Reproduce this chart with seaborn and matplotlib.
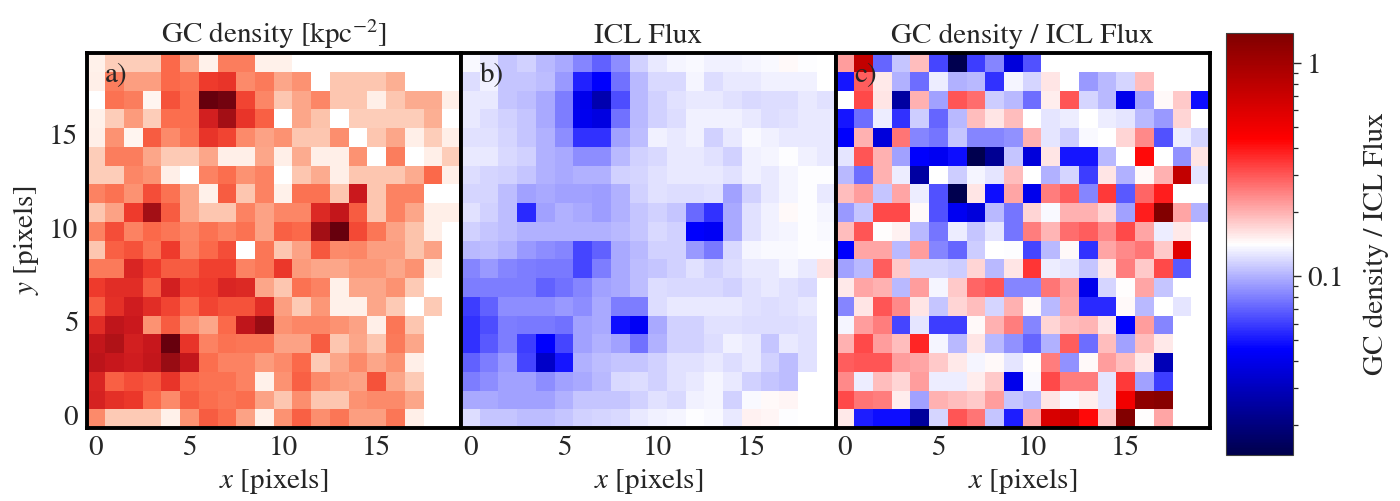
import numpy as np
import pandas as pd
import matplotlib
matplotlib.use("Agg")
import matplotlib.pyplot as plt
from matplotlib.colors import LogNorm, Normalize
from matplotlib.ticker import NullFormatter, LogLocator
import seaborn as sns

N = np.nan
x_pixels = list(range(20))
y_pixels = list(range(20))

# rows listed from y = 0 (bottom) to y = 19 (top)
gc_density = [
    [3.2, 1.6, 1.6, 1.6, 0.2, 3.0, 4.3, 3.9, 2.6, 0.2, 3.0, 4.2, 3.1, 3.7, 2.7, 2.7, 3.7, 0.3, N, N],
    [5.7, 5.3, 5.1, 4.0, 3.2, 4.3, 3.9, 3.7, 3.9, 2.6, 1.7, 3.1, 1.7, 1.7, 3.0, 3.2, 3.2, 2.5, N, N],
    [5.6, 4.2, 4.6, 4.4, 5.2, 4.0, 3.8, 3.8, 3.4, 0.2, 3.0, 4.2, 3.2, 2.8, 2.6, 4.5, 2.5, 1.6, N, N],
    [6.4, 6.1, 5.9, 6.2, 7.2, 6.2, 3.9, 3.4, 3.4, 2.8, 3.2, 4.0, 1.6, 2.5, 3.2, 2.5, 3.0, 0.3, N, N],
    [6.2, 6.7, 5.8, 6.1, 8.0, 5.2, 3.4, 3.8, 3.7, 3.7, 2.6, 2.6, 4.3, 1.7, 2.5, 1.7, 3.6, 2.5, N, N],
    [5.4, 6.3, 6.0, 3.0, 4.3, 3.1, 2.5, 4.0, 6.3, 7.2, 3.0, 3.3, 3.3, 3.0, 2.6, 0.3, 3.7, 1.7, N, N],
    [4.3, 5.3, 5.9, 5.4, 4.8, 4.0, 4.8, 4.5, 4.5, 5.4, 2.7, 1.6, 2.9, 0.2, 0.2, 2.5, 1.6, N, 1.6, N],
    [5.0, 5.4, 5.4, 4.3, 5.8, 4.9, 5.0, 5.6, 5.5, 2.5, 1.7, 3.8, 3.4, 0.2, 2.5, 2.5, 3.0, 1.6, N, N],
    [3.6, 3.6, 5.6, 5.0, 4.3, 4.3, 4.9, 4.9, 3.4, 3.7, 5.1, 2.8, 2.5, 2.5, 2.9, 2.9, 2.5, 3.0, 0.4, N],
    [1.7, 4.2, 4.5, 3.8, 5.0, 3.4, 4.0, 4.6, N, 3.7, 1.7, 2.6, 4.4, 3.2, 3.3, 2.7, 2.7, 1.8, 2.6, N],
    [3.4, 4.6, 3.4, 4.0, 3.7, 3.3, 3.8, 3.4, 3.8, 2.6, 4.2, 4.0, 7.0, 8.0, 4.7, 3.7, 2.6, 1.8, 0.3, N],
    [1.7, 2.6, 5.0, 7.0, 4.3, 2.5, 1.7, 1.7, 3.4, 2.6, 3.3, 3.3, 5.5, 6.2, 4.3, 1.7, 3.4, 2.5, 0.3, 0.3],
    [3.4, 3.8, 3.0, 4.6, 3.8, 2.5, 0.2, 4.3, 1.7, 3.4, 0.2, 3.8, 3.8, 1.7, 6.0, 1.7, 3.4, 3.4, N, N],
    [1.5, 1.5, 3.3, 3.0, 0.3, N, 3.4, 3.9, 3.0, 3.4, N, 1.7, 2.4, 0.3, 1.7, 1.7, 1.7, 2.4, 4.0, 0.3],
    [1.5, 3.5, 3.5, 2.5, 1.6, 1.6, 2.5, 0.3, 0.3, 2.5, 0.3, 2.4, 0.3, 0.3, 3.0, N, 3.5, N, 0.3, 1.5],
    [0.3, 3.0, 0.0, 4.3, 3.2, 3.8, 5.2, 4.8, 3.2, 2.6, 3.0, 1.7, 1.7, 3.1, N, 1.7, 2.5, 0.3, 1.5, 0.3],
    [0.2, 1.5, 2.8, 1.5, 3.9, 3.9, 5.8, 7.0, 5.2, 4.2, N, 2.5, 1.8, N, 1.5, 1.5, 1.5, 1.5, 2.3, N],
    [N, 3.8, 3.5, 0.0, 4.5, 3.9, 8.0, 7.8, 4.8, 3.3, 1.7, 2.5, 3.3, 1.7, 1.7, 0.3, 1.7, 2.4, 2.4, 0.3],
    [0.3, 3.5, 2.7, 2.7, 4.0, 3.8, 5.0, 5.2, 3.2, 3.6, 2.5, 3.0, N, 1.7, 1.7, 1.7, 2.3, N, N, N],
    [0.2, 1.5, 1.5, 1.5, 4.0, 2.5, 0.2, 3.5, 3.5, 0.2, 0.2, N, N, N, N, N, N, N, N, N],
]

icl_flux = [
    [1.4, 2.2, 2.2, 2.5, 2.5, 2.2, 1.8, 1.7, 1.5, 0.8, 0.6, 0.4, 0.0, 0.3, 0.8, -0.5, -0.4, 0.1, N, N],
    [3.4, 3.4, 3.7, 3.7, 3.7, 3.1, 2.3, 2.3, 2.3, 1.8, 1.1, 1.5, 0.6, 0.4, 1.8, 0.2, -0.3, -0.4, N, N],
    [5.0, 4.4, 3.7, 3.7, 4.4, 3.7, 3.4, 2.8, 1.5, 1.4, 1.8, 1.2, 0.8, 0.4, 0.8, 1.8, 2.2, 2.5, N, N],
    [6.2, 5.0, 4.0, 7.2, 13.0, 9.1, 3.1, 2.5, 2.2, 2.2, 1.8, 1.1, 1.1, 0.9, 1.4, 0.8, 1.8, 2.5, 1.1, N],
    [8.1, 6.5, 5.1, 7.5, 10.0, 7.2, 3.7, 3.1, 3.7, 5.6, 3.1, 1.8, 1.8, 1.4, 0.6, 0.9, 2.2, 0.8, 1.2, N],
    [8.1, 7.0, 5.0, 5.3, 5.3, 5.6, 3.7, 3.4, 9.4, 10.5, 3.4, 1.8, 1.8, 1.2, 1.2, 1.4, 1.4, 1.4, 1.2, N],
    [7.5, 6.2, 4.4, 4.4, 4.5, 4.0, 4.4, 3.4, 5.0, 5.0, 1.4, 0.9, 0.9, 0.9, 0.9, 1.2, 1.4, 1.2, 0.8, N],
    [5.0, 5.0, 5.0, 5.1, 6.2, 5.6, 4.7, 3.7, 3.4, 2.5, 1.4, 1.5, 1.5, 1.5, 1.8, 1.2, 0.9, 1.2, 1.5, N],
    [4.7, 4.0, 4.7, 5.1, 5.3, 5.3, 7.2, 5.0, 3.4, 2.5, 2.2, 1.8, 1.1, 1.8, 1.4, 0.8, 0.9, 0.4, 0.8, -1.2],
    [2.8, 2.5, 3.1, 4.0, 4.4, 4.7, 7.2, 6.2, 3.4, 2.8, 1.8, 1.8, 4.0, 5.3, 1.5, 0.4, 0.3, 0.3, 0.05, 0.0],
    [1.8, 2.2, 2.5, 3.1, 3.1, 3.1, 3.1, 3.1, 2.8, 2.2, 1.5, 1.8, 10.0, 10.6, 3.4, 1.2, 0.6, 0.4, 0.1, 0.3],
    [1.2, 1.8, 2.5, 8.4, 3.7, 3.1, 3.4, 3.9, 3.1, 2.3, 1.8, 2.2, 5.9, 8.1, 3.4, 1.2, 0.6, -0.3, 0.1, 0.4],
    [1.7, 1.7, 2.5, 3.7, 3.4, 3.7, 3.7, 3.9, 3.1, 1.8, 1.1, 1.4, 1.4, 1.2, 3.7, 1.8, 0.8, 0.4, 0.1, 0.8],
    [1.4, 1.7, 1.8, 2.2, 3.1, 3.4, 3.1, 3.1, 1.8, 1.7, 1.2, 0.9, 0.8, 0.8, 1.1, 0.6, 0.8, 0.4, 0.1, 0.1],
    [0.8, 0.8, 1.5, 1.8, 3.1, 3.4, 4.4, 4.4, 2.8, 1.8, 1.5, 0.9, 0.8, 1.1, 1.8, 0.6, 0.4, 0.1, 0.6, 0.8],
    [1.1, 1.2, 1.7, 2.2, 3.1, 4.4, 8.1, 8.1, 3.7, 2.5, 0.6, 0.8, 0.6, 1.8, 0.9, 0.3, 0.6, 0.8, 0.9, 0.8],
    [0.8, 1.4, 1.8, 2.2, 3.4, 5.0, 10.8, 11.6, 5.6, 2.8, 1.8, 1.4, 0.6, 0.6, 0.6, 0.9, 1.4, 1.1, 0.9, 0.9],
    [0.9, 0.9, 2.2, 2.5, 3.4, 5.0, 11.0, 14.5, 6.9, 2.8, 1.8, 1.2, 0.8, 0.8, 1.1, 1.5, 1.4, 1.4, 0.8, 1.2],
    [1.4, 0.6, 2.2, 2.2, 2.5, 4.0, 8.7, 10.0, 5.6, 2.8, 1.5, 1.5, 0.4, 1.4, 0.9, 0.8, 0.6, 0.6, 0.5, N],
    [0.2, 0.9, 2.2, 1.8, 2.8, 3.4, 4.7, 6.2, 4.4, 1.8, 0.8, 0.4, 0.2, 0.5, 0.5, 0.4, 0.3, -0.3, 0.05, N],
]

gc_over_icl = [
    [0.155, 0.052, 0.048, 0.048, 0.024, 0.118, 0.30, 0.26, 0.11, 0.052, 0.21, 0.63, 0.70, 0.42, 0.18, 1.35, 0.142, 0.21, N, N],
    [0.32, 0.26, 0.25, 0.152, 0.093, 0.20, 0.19, 0.18, 0.22, 0.11, 0.104, 0.16, 0.137, 0.152, 0.125, 0.50, 1.2, 1.27, N, N],
    [0.24, 0.13, 0.19, 0.17, 0.22, 0.13, 0.13, 0.152, 0.18, 0.04, 0.137, 0.32, 0.25, 0.25, 0.125, 0.34, 0.093, 0.06, N, N],
    [0.29, 0.30, 0.30, 0.22, 0.21, 0.18, 0.155, 0.135, 0.146, 0.125, 0.142, 0.25, 0.086, 0.146, 0.22, 0.19, 0.155, 0.029, N, N],
    [0.20, 0.32, 0.22, 0.19, 0.37, 0.135, 0.104, 0.16, 0.104, 0.086, 0.071, 0.10, 0.29, 0.074, 0.19, 0.093, 0.19, 0.155, N, N],
    [0.135, 0.22, 0.25, 0.062, 0.125, 0.06, 0.06, 0.146, 0.20, 0.25, 0.082, 0.17, 0.19, 0.195, 0.16, 0.045, 0.22, 0.082, N, N],
    [0.082, 0.16, 0.30, 0.24, 0.16, 0.11, 0.17, 0.19, 0.118, 0.20, 0.146, 0.104, 0.21, 0.055, 0.055, 0.146, 0.104, N, 0.125, N],
    [0.155, 0.21, 0.20, 0.104, 0.22, 0.135, 0.18, 0.28, 0.30, 0.082, 0.082, 0.26, 0.22, 0.04, 0.118, 0.142, 0.21, 0.11, N, N],
    [0.093, 0.104, 0.29, 0.18, 0.118, 0.118, 0.113, 0.17, 0.104, 0.16, 0.35, 0.13, 0.125, 0.11, 0.155, 0.25, 0.18, 0.32, 0.068, N],
    [0.045, 0.21, 0.21, 0.104, 0.22, 0.082, 0.071, 0.113, N, 0.14, 0.062, 0.104, 0.146, 0.057, 0.21, 0.24, 0.26, 0.18, 0.57, N],
    [0.19, 0.30, 0.142, 0.15, 0.104, 0.077, 0.13, 0.11, 0.125, 0.077, 0.25, 0.195, 0.27, 0.29, 0.24, 0.32, 0.21, 0.13, 0.155, N],
    [0.09, 0.11, 0.32, 0.32, 0.146, 0.065, 0.042, 0.036, 0.104, 0.077, 0.17, 0.137, 0.20, 0.20, 0.17, 0.093, 0.39, 1.35, 0.21, 0.10],
    [0.19, 0.22, 0.11, 0.21, 0.13, 0.065, 0.015, 0.16, 0.048, 0.21, 0.04, 0.25, 0.29, 0.082, 0.34, 0.068, 0.28, 0.39, N, N],
    [0.104, 0.074, 0.20, 0.13, 0.025, N, 0.113, 0.135, 0.125, 0.19, N, 0.10, 0.118, 0.06, 0.16, 0.10, 0.146, 0.20, 0.76, 0.125],
    [0.125, 0.30, 0.20, 0.093, 0.045, 0.042, 0.048, 0.015, 0.023, 0.11, 0.036, 0.16, 0.05, 0.05, 0.104, N, 0.42, N, 0.086, 0.16],
    [0.045, 0.20, 0.036, 0.26, 0.082, 0.077, 0.11, 0.082, 0.082, 0.086, 0.20, 0.125, 0.113, 0.137, N, 0.17, 0.24, 0.065, 0.13, 0.118],
    [0.05, 0.074, 0.13, 0.057, 0.113, 0.071, 0.104, 0.19, 0.16, 0.19, N, 0.125, 0.13, N, 0.13, 0.125, 0.104, 0.09, 0.17, N],
    [N, 0.32, 0.16, 0.025, 0.20, 0.093, 0.30, 0.27, 0.113, 0.104, 0.074, 0.152, 0.30, 0.118, 0.104, 0.04, 0.093, 0.146, 0.18, 0.048],
    [0.05, 0.29, 0.155, 0.10, 0.074, 0.13, 0.10, 0.104, 0.057, 0.135, 0.118, 0.16, N, 0.09, 0.104, 0.118, 0.19, N, N, N],
    [0.22, 0.76, 0.071, 0.11, 0.19, 0.062, 0.015, 0.06, 0.082, 0.036, 0.065, N, N, N, N, N, N, N, N, N],
]

titles = ["GC density [kpc$^{-2}$]", "ICL Flux", "GC density / ICL Flux"]
panel_tags = ["a)", "b)", "c)"]
cbar_label = "GC density / ICL Flux"
cbar_ticks = [0.1, 1]
cbar_ticklabels = ["0.1", "1"]
ratio_min, ratio_max = 0.0145, 1.38
density_min, density_max = 0.0, 8.0
flux_lim = 20.0

sns.set_style("white")
plt.rcParams["font.family"] = ["STIXGeneral", "DejaVu Serif"]
plt.rcParams["mathtext.fontset"] = "stix"
FS = 21

fig = plt.figure(figsize=(14, 5.01), dpi=100)
ax_w, ax_h, ax_y = 0.2675, 0.7485, 0.1457
ax_a = fig.add_axes([0.0618, ax_y, ax_w, ax_h])
ax_b = fig.add_axes([0.3293, ax_y, ax_w, ax_h])
ax_c = fig.add_axes([0.5968, ax_y, ax_w, ax_h])
cax = fig.add_axes([0.8757, 0.0918, 0.0479, 0.8417])

frames = [pd.DataFrame(d, index=y_pixels, columns=x_pixels)
          for d in (gc_density, icl_flux, gc_over_icl)]

sns.heatmap(frames[0], ax=ax_a, cmap="Reds", vmin=density_min, vmax=density_max,
            cbar=False, xticklabels=5, yticklabels=5)
sns.heatmap(frames[1], ax=ax_b, cmap="seismic_r",
            norm=Normalize(vmin=-flux_lim, vmax=flux_lim),
            cbar=False, xticklabels=5, yticklabels=5)
sns.heatmap(frames[2], ax=ax_c, cmap="seismic",
            norm=LogNorm(vmin=ratio_min, vmax=ratio_max),
            cbar=True, cbar_ax=cax, xticklabels=5, yticklabels=5)

for i, ax in enumerate([ax_a, ax_b, ax_c]):
    ax.invert_yaxis()
    for s in ax.spines.values():
        s.set_visible(True)
        s.set_linewidth(2.8)
        s.set_color("black")
    ax.tick_params(direction="in", length=5, width=1.2, labelsize=FS, pad=6,
                   bottom=True, left=True, top=False, right=False)
    plt.setp(ax.get_yticklabels(), rotation=0)
    plt.setp(ax.get_xticklabels(), rotation=0)
    ax.set_xlabel("$x$ [pixels]", fontsize=FS, labelpad=3)
    ax.set_title(titles[i], fontsize=FS, pad=7)
    ax.text(0.05, 0.94, panel_tags[i], transform=ax.transAxes, fontsize=FS,
            ha="left", va="center")
    if i == 0:
        ax.set_ylabel("$y$ [pixels]", fontsize=FS, labelpad=6)
    else:
        ax.set_ylabel("")
        ax.tick_params(labelleft=False)

cb = ax_c.collections[0].colorbar
cb.outline.set_linewidth(0.8)
cb.outline.set_edgecolor("0.25")
cb.set_ticks(cbar_ticks, labels=cbar_ticklabels)
cb.ax.yaxis.set_minor_locator(LogLocator(base=10, subs=np.arange(2, 10) * 0.1))
cb.ax.yaxis.set_minor_formatter(NullFormatter())
cb.ax.tick_params(which="major", direction="out", length=6, width=1, labelsize=FS, pad=4)
cb.ax.tick_params(which="minor", direction="out", length=3.5, width=0.9)
cb.set_label(cbar_label, fontsize=FS, labelpad=14)

fig.savefig("out.png", dpi=100)
